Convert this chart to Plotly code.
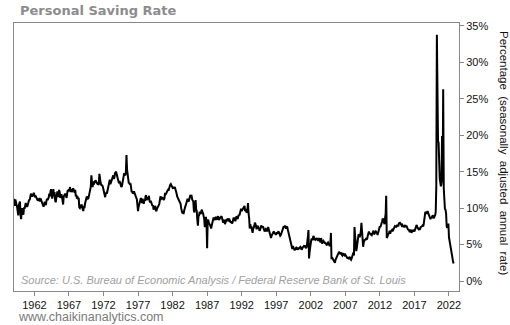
import pandas as pd
import plotly.graph_objects as go

# Monthly personal saving rate (%)
rate_1959 = [11.3, 10.6, 10.3, 11.2, 10.6, 10.5, 10.2, 9.5, 9.0, 10.4, 10.6, 10.9]
rate_1960s = [
    9.0, 8.5, 9.6, 10.0, 9.4, 9.1, 10.1, 9.9, 10.3, 10.7, 10.4, 10.2,
    10.3, 10.8, 11.0, 11.2, 11.1, 11.6, 12.0, 11.8, 11.6, 11.7, 11.9, 12.1,
    11.8, 11.5, 11.7, 11.4, 11.5, 11.2, 11.3, 11.0, 11.1, 11.4, 10.9, 11.3,
    10.9, 10.8, 10.6, 10.4, 10.2, 10.5, 10.9, 10.7, 10.4, 11.0, 11.3, 11.1,
    11.3, 11.5, 12.0, 11.6, 12.3, 12.6, 11.9, 11.3, 11.8, 12.6, 11.7, 12.2,
    11.1, 10.8, 11.3, 11.7, 12.3, 12.0, 11.5, 12.5, 12.2, 11.4, 11.6, 11.9,
    11.5, 11.0, 10.5, 11.6, 11.8, 11.9, 11.9, 11.6, 11.4, 12.0, 12.5, 12.3,
    12.6, 12.5, 12.9, 12.2, 12.6, 12.2, 12.4, 12.7, 12.6, 12.3, 12.1, 12.5,
    11.6, 11.8, 11.3, 11.6, 11.2, 11.4, 10.1, 10.0, 10.2, 10.3, 10.5, 10.1,
    9.8, 9.6, 10.3, 10.0, 10.6, 11.0, 11.3, 11.6, 11.4, 11.3, 11.4, 11.8,
]
rate_1970s = [
    11.8, 12.4, 12.9, 14.5, 13.3, 12.9, 13.3, 13.5, 13.4, 13.6, 13.8, 13.7,
    13.5, 13.4, 13.5, 13.2, 13.3, 14.7, 13.6, 13.5, 13.2, 13.2, 13.1, 12.9,
    12.6, 12.2, 11.8, 11.5, 12.0, 12.1, 12.0, 12.4, 12.6, 13.5, 13.5, 13.9,
    13.3, 13.6, 13.8, 14.1, 14.3, 14.5, 14.0, 14.2, 14.8, 14.9, 15.0, 14.6,
    14.2, 13.8, 13.6, 13.4, 13.7, 13.5, 13.3, 12.9, 13.0, 13.4, 14.0, 14.6,
    14.8, 14.6, 14.5, 15.0, 17.3, 15.3, 14.5, 13.8, 13.4, 13.5, 13.2, 13.4,
    12.6, 12.2, 12.3, 12.0, 12.1, 12.3, 12.0, 11.8, 11.7, 11.4, 11.2, 10.5,
    9.6, 10.2, 10.6, 10.9, 11.1, 11.4, 11.0, 10.7, 11.3, 10.9, 10.6, 11.1,
    11.0, 11.6, 11.8, 11.1, 11.3, 11.5, 11.2, 11.7, 11.0, 10.8, 11.0, 10.7,
    10.5, 10.3, 10.4, 9.8, 10.0, 10.2, 10.3, 9.7, 9.6, 9.9, 10.2, 10.3,
]
rate_1980s = [
    10.4, 10.6, 11.0, 11.6, 11.4, 11.3, 11.5, 11.4, 11.3, 11.1, 11.4, 12.1,
    11.9, 12.0, 12.3, 12.4, 12.5, 12.4, 12.7, 13.1, 13.2, 13.3, 13.0, 12.8,
    12.8, 12.9, 12.7, 12.8, 12.9, 12.6, 12.4, 12.0, 11.6, 11.4, 11.2, 11.1,
    10.9, 10.8, 10.6, 10.0, 9.4, 9.3, 9.5, 9.2, 9.6, 10.1, 10.2, 10.4,
    10.8, 11.1, 11.3, 11.0, 10.9, 11.2, 11.6, 11.8, 11.7, 11.7, 11.2, 11.1,
    10.9, 9.6, 9.4, 10.5, 11.1, 9.8, 9.6, 8.4, 7.6, 8.9, 9.0, 9.5,
    9.4, 9.2, 9.6, 9.8, 9.4, 9.3, 8.9, 8.5, 7.4, 8.5, 8.8, 8.0,
    4.5, 8.3, 8.4, 8.0, 7.9, 7.7, 7.5, 7.2, 7.6, 8.2, 8.3, 8.6,
    8.6, 8.4, 8.5, 8.8, 8.6, 8.4, 8.7, 8.9, 8.5, 8.4, 8.6, 8.7,
    8.7, 8.9, 8.6, 8.2, 8.0, 8.3, 8.4, 7.8, 8.0, 8.3, 8.5, 8.2,
]
rate_1990s = [
    8.6, 8.4, 8.3, 8.4, 8.2, 8.0, 8.2, 7.9, 8.0, 8.4, 8.7, 8.6,
    8.4, 8.2, 8.6, 8.9, 8.7, 8.5, 8.8, 9.1, 9.0, 9.3, 9.6, 9.9,
    9.6, 9.8, 9.9, 10.0, 10.1, 10.3, 9.6, 9.9, 9.5, 9.4, 9.8, 10.7,
    9.2, 8.6, 7.2, 7.8, 7.4, 7.5, 7.0, 6.6, 7.2, 7.3, 7.6, 8.0,
    7.8, 7.5, 7.1, 7.4, 7.6, 7.2, 7.3, 6.9, 7.0, 7.4, 7.6, 7.5,
    7.3, 7.5, 7.2, 7.0, 6.8, 6.9, 7.1, 7.0, 6.8, 7.2, 7.4, 7.1,
    6.7, 6.5, 6.3, 5.9, 6.2, 6.5, 6.4, 6.7, 6.8, 6.5, 6.6, 6.4,
    6.4, 6.7, 6.5, 6.7, 6.8, 6.6, 6.4, 6.2, 6.3, 6.5, 6.7, 6.9,
    7.3, 7.5, 7.4, 7.6, 7.4, 7.2, 7.4, 7.5, 7.1, 6.7, 6.6, 6.2,
    6.0, 5.4, 5.2, 4.6, 4.4, 4.8, 4.6, 4.5, 4.2, 4.4, 4.5, 4.3,
]
rate_2000s = [
    4.5, 4.4, 4.3, 4.6, 4.4, 4.6, 4.7, 4.6, 4.3, 4.4, 4.6, 4.7,
    4.8, 4.7, 4.9, 4.6, 4.5, 4.7, 5.2, 6.1, 7.0, 3.1, 4.0, 4.6,
    5.4, 5.7, 5.8, 5.6, 6.0, 6.2, 5.8, 5.6, 5.9, 5.7, 5.8, 5.9,
    5.7, 5.5, 5.9, 5.7, 5.5, 5.3, 5.9, 5.6, 5.1, 5.4, 5.5, 5.3,
    5.4, 5.1, 5.2, 5.0, 4.9, 5.2, 5.3, 5.1, 5.0, 4.8, 5.0, 6.6,
    3.0, 3.2, 3.1, 2.9, 2.8, 2.7, 2.5, 2.9, 3.1, 3.3, 3.4, 3.6,
    3.8, 4.0, 3.9, 3.7, 3.8, 3.9, 3.6, 3.5, 3.7, 3.8, 3.6, 3.5,
    3.6, 3.5, 3.4, 3.2, 3.1, 3.3, 3.0, 3.2, 3.3, 3.0, 2.9, 3.1,
    3.4, 3.5, 3.9, 3.5, 7.4, 6.2, 4.9, 4.1, 4.6, 5.3, 6.1, 6.4,
    6.3, 6.0, 6.3, 6.8, 8.0, 6.6, 5.6, 4.7, 5.3, 5.6, 5.7, 5.6,
]
rate_2010s = [
    5.9, 5.7, 5.8, 6.2, 6.7, 6.8, 6.5, 6.6, 6.3, 6.4, 6.3, 6.5,
    6.8, 6.9, 6.4, 6.5, 6.6, 6.8, 6.7, 6.6, 6.3, 6.6, 6.8, 7.0,
    7.5, 7.4, 7.6, 7.9, 8.2, 8.6, 8.2, 7.9, 7.8, 8.6, 9.2, 11.7,
    5.9, 6.1, 6.3, 6.4, 6.6, 6.9, 6.5, 6.8, 6.9, 7.0, 6.8, 7.0,
    7.2, 7.4, 7.5, 7.4, 7.6, 7.5, 7.7, 7.6, 7.5, 7.9, 8.0, 8.0,
    7.9, 7.8, 7.6, 7.7, 7.5, 7.4, 7.6, 7.5, 7.7, 7.4, 7.6, 7.3,
    7.2, 7.0, 7.1, 6.8, 6.7, 6.9, 7.0, 6.6, 6.9, 7.0, 6.8, 6.9,
    6.8, 7.1, 7.3, 7.5, 7.7, 7.4, 7.2, 7.1, 7.0, 7.3, 7.2, 7.4,
    7.4, 7.5, 7.6, 7.5, 7.7, 8.2, 9.3, 9.5, 9.4, 9.2, 9.4, 9.6,
    9.3, 9.1, 8.8, 8.6, 8.5, 8.7, 8.6, 8.9, 9.0, 8.8, 8.6, 8.9,
]
rate_2020s = [
    9.0, 9.5, 12.9, 33.8, 24.9, 19.2, 19.0, 14.7, 14.0, 13.5, 13.0, 13.4,
    19.9, 13.6, 26.3, 12.7, 10.5, 9.9, 9.8, 9.3, 7.5, 7.3, 7.5, 7.9,
    6.0, 5.4, 4.9, 4.4, 4.0, 3.6, 3.2, 2.7, 2.4,
]

y_tick_vals = [0, 5, 10, 15, 20, 25, 30, 35]
y_tick_text = ["0%", "5%", "10%", "15%", "20%", "25%", "30%", "35%"]
x_tick_years = [1962, 1967, 1972, 1977, 1982, 1987, 1992, 1997, 2002, 2007, 2012, 2017, 2022]

values = rate_1959 + rate_1960s + rate_1970s + rate_1980s + rate_1990s + rate_2000s + rate_2010s + rate_2020s
dates = pd.date_range("1959-01-01", periods=len(values), freq="MS")

fig = go.Figure()
fig.add_trace(go.Scatter(x=dates, y=values, mode="lines",
                         line=dict(color="#000000", width=2), hoverinfo="skip"))

axis_font = dict(family="Liberation Sans, Arial, sans-serif", size=11, color="#111111")
fig.update_layout(
    width=510, height=325,
    margin=dict(l=14, r=51, t=23, b=34),
    paper_bgcolor="white", plot_bgcolor="white",
    showlegend=False,
    xaxis=dict(
        range=["1959-01-20", "2023-06-15"],
        tickvals=[f"{y}-01-01" for y in x_tick_years],
        ticktext=[str(y) for y in x_tick_years],
        ticks="outside", ticklen=4, tickcolor="#888888",
        showline=True, linecolor="#888888", linewidth=1, mirror=True,
        showgrid=False, zeroline=False, tickfont=axis_font,
    ),
    yaxis=dict(
        side="right", range=[-1.37, 35.4],
        tickvals=y_tick_vals, ticktext=y_tick_text,
        ticks="outside", ticklen=4, tickcolor="#888888",
        showline=True, linecolor="#888888", linewidth=1, mirror=True,
        showgrid=False, zeroline=False, tickfont=axis_font,
    ),
)

fig.add_annotation(text="<b>Personal Saving Rate</b>", xref="paper", yref="paper",
                   x=0.009, y=1.045, xanchor="left", yanchor="middle", showarrow=False,
                   font=dict(family="DejaVu Sans, Verdana, sans-serif", size=13, color="#8c8c8c"))
fig.add_annotation(text="Source: U.S. Bureau of Economic Analysis / Federal Reserve Bank of St. Louis",
                   xref="paper", yref="paper", x=0.011, y=0.041, xanchor="left", yanchor="middle",
                   showarrow=False,
                   font=dict(family="Liberation Sans, Arial, sans-serif", size=11, color="#a0a0a0", style="italic"))
fig.add_annotation(text="www.chaikinanalytics.com", xref="paper", yref="paper",
                   x=0.004, y=-0.097, xanchor="left", yanchor="middle", showarrow=False,
                   font=dict(family="Liberation Sans, Arial, sans-serif", size=12.5, color="#7a7a7a"))
fig.add_annotation(text="Percentage  (seasonally  adjusted  annual  rate)", xref="paper", yref="paper",
                   x=1.101, y=0.515, xanchor="center", yanchor="middle", textangle=90, showarrow=False,
                   font=dict(family="Liberation Sans, Arial, sans-serif", size=11.5, color="#111111"))

fig.write_html("out.html")
